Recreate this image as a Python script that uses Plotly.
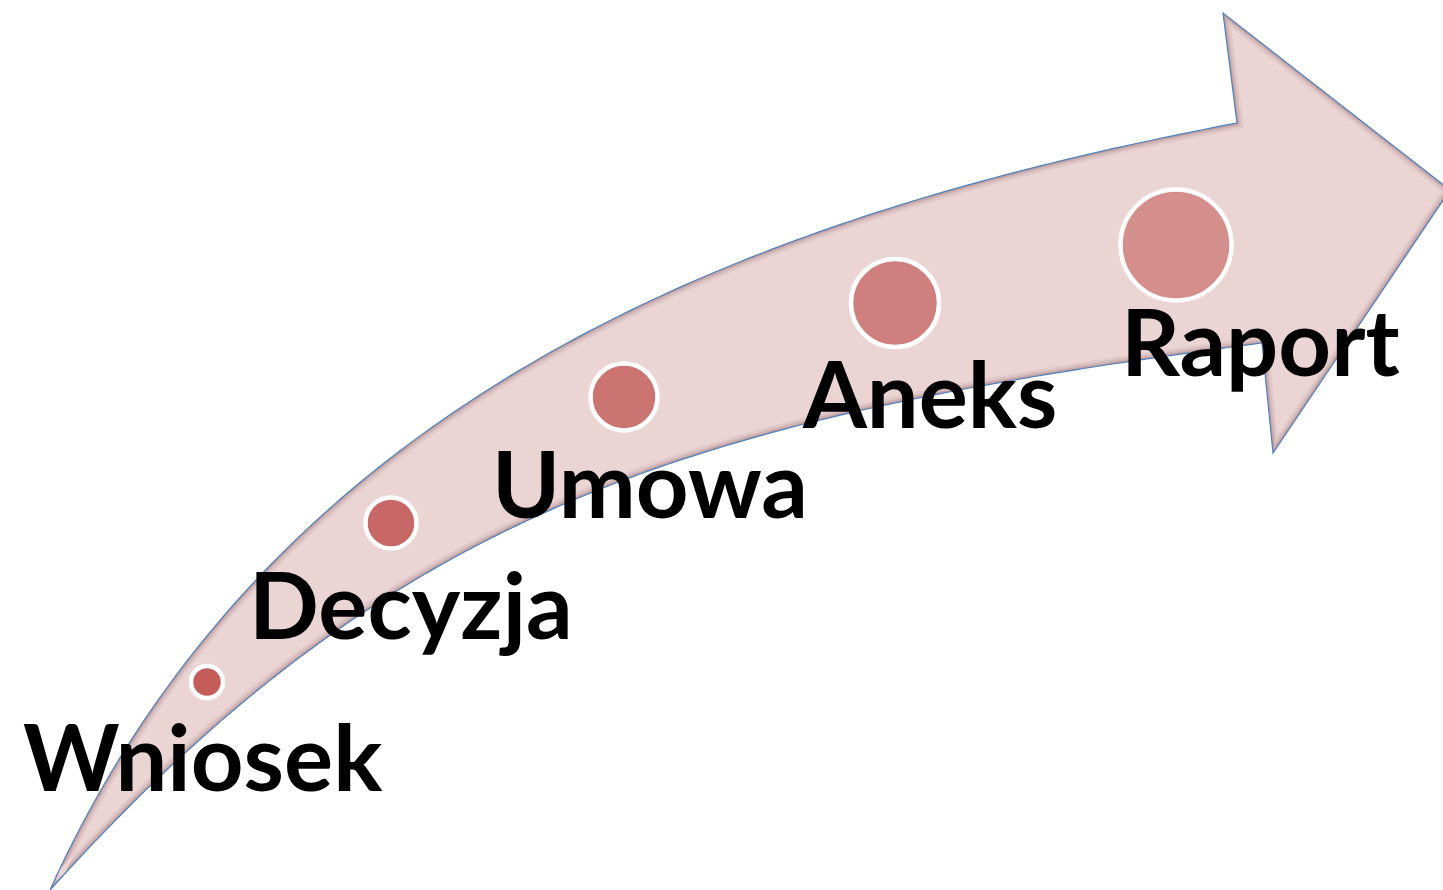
import numpy as np
import plotly.graph_objects as go

W, H = 1443, 890

# ---- data ----
stages = ["Wniosek", "Decyzja", "Umowa", "Aneks", "Raport"]
circle_x = [207, 391, 624, 895, 1176]
circle_y = [682, 523, 397, 303, 245]
circle_d = [32, 51, 67, 88, 111]
circle_colors = ["#C45C5A", "#C76866", "#CB7471", "#CF807E", "#D48E8C"]
label_x = [203, 411, 650, 929, 1260]
label_base = [790, 638, 517, 427, 375]

# ---- arrow outline geometry ----
def cubic(p0, p1, p2, p3, n=120):
    t = np.linspace(0, 1, n)[:, None]
    p0, p1, p2, p3 = map(np.array, (p0, p1, p2, p3))
    return ((1 - t) ** 3) * p0 + 3 * ((1 - t) ** 2) * t * p1 + 3 * (1 - t) * t * t * p2 + (t ** 3) * p3

tail = (50, 890)
neck_up = (1237, 123)
neck_lo = (1262, 343)
upper = cubic(tail, (280, 380), (780, 210), neck_up)
lower = cubic(neck_lo, (700, 417), (400, 502), tail)
head = np.array([(1223, 13), (1450, 190), (1273, 453)])
outline = np.vstack([upper, head, lower[:-1]])


def offset_poly(pts, d):
    n = len(pts)
    out = []
    area = 0.5 * np.sum(pts[:, 0] * np.roll(pts[:, 1], -1) - np.roll(pts[:, 0], -1) * pts[:, 1])
    sgn = 1 if area > 0 else -1
    for i in range(n):
        a, b, c = pts[i - 1], pts[i], pts[(i + 1) % n]
        e1 = b - a
        e2 = c - b
        if np.linalg.norm(e1) < 1e-9 or np.linalg.norm(e2) < 1e-9:
            out.append(b)
            continue
        n1 = np.array([-e1[1], e1[0]]) / np.linalg.norm(e1) * sgn
        n2 = np.array([-e2[1], e2[0]]) / np.linalg.norm(e2) * sgn
        m = n1 + n2
        nm = np.linalg.norm(m)
        if nm < 0.3:
            out.append(b)
            continue
        m = m / nm
        cosh = max(np.dot(m, n1), 0.35)
        out.append(b + m * d / cosh)
    return np.array(out)


def path_of(pts):
    return "M " + " L ".join(f"{x:.2f},{y:.2f}" for x, y in pts) + " Z"


shapes = []
layers = [(0, "#BF9E9F"), (1.5, "#CDB0B1"), (3, "#D9C0C1"), (4.5, "#E2CACB"), (6.5, "#EAD4D4")]
for d, col in layers:
    pts = outline if d == 0 else offset_poly(outline, d)
    shapes.append(dict(type="path", path=path_of(pts), xref="x", yref="y",
                       fillcolor=col, line=dict(width=0), layer="below"))
shapes.append(dict(type="path", path=path_of(outline), xref="x", yref="y",
                   fillcolor="rgba(0,0,0,0)", line=dict(color="#4F81BD", width=1.2), layer="below"))

fig = go.Figure()
fig.add_trace(go.Scatter(
    x=circle_x, y=circle_y, mode="markers",
    marker=dict(size=circle_d, color=circle_colors, opacity=1,
                line=dict(color="white", width=4.5)),
    hoverinfo="text", text=stages, showlegend=False,
))

FS = 92
annotations = []
for name, lx, lb in zip(stages, label_x, label_base):
    annotations.append(dict(
        x=lx, y=lb - 0.38 * FS, xref="x", yref="y", text=name, showarrow=False,
        xanchor="center", yanchor="middle",
        font=dict(family="Lato", size=FS, color="black", weight="bold"),
    ))

fig.update_layout(
    width=W, height=H, margin=dict(l=0, r=0, t=0, b=0),
    paper_bgcolor="white", plot_bgcolor="white",
    xaxis=dict(range=[0, W], visible=False, fixedrange=True),
    yaxis=dict(range=[H, 0], visible=False, fixedrange=True),
    shapes=shapes, annotations=annotations,
)
fig.write_html("out.html", config={"displayModeBar": False},
               post_script="document.body.style.margin='0';document.body.style.overflow='hidden';")
